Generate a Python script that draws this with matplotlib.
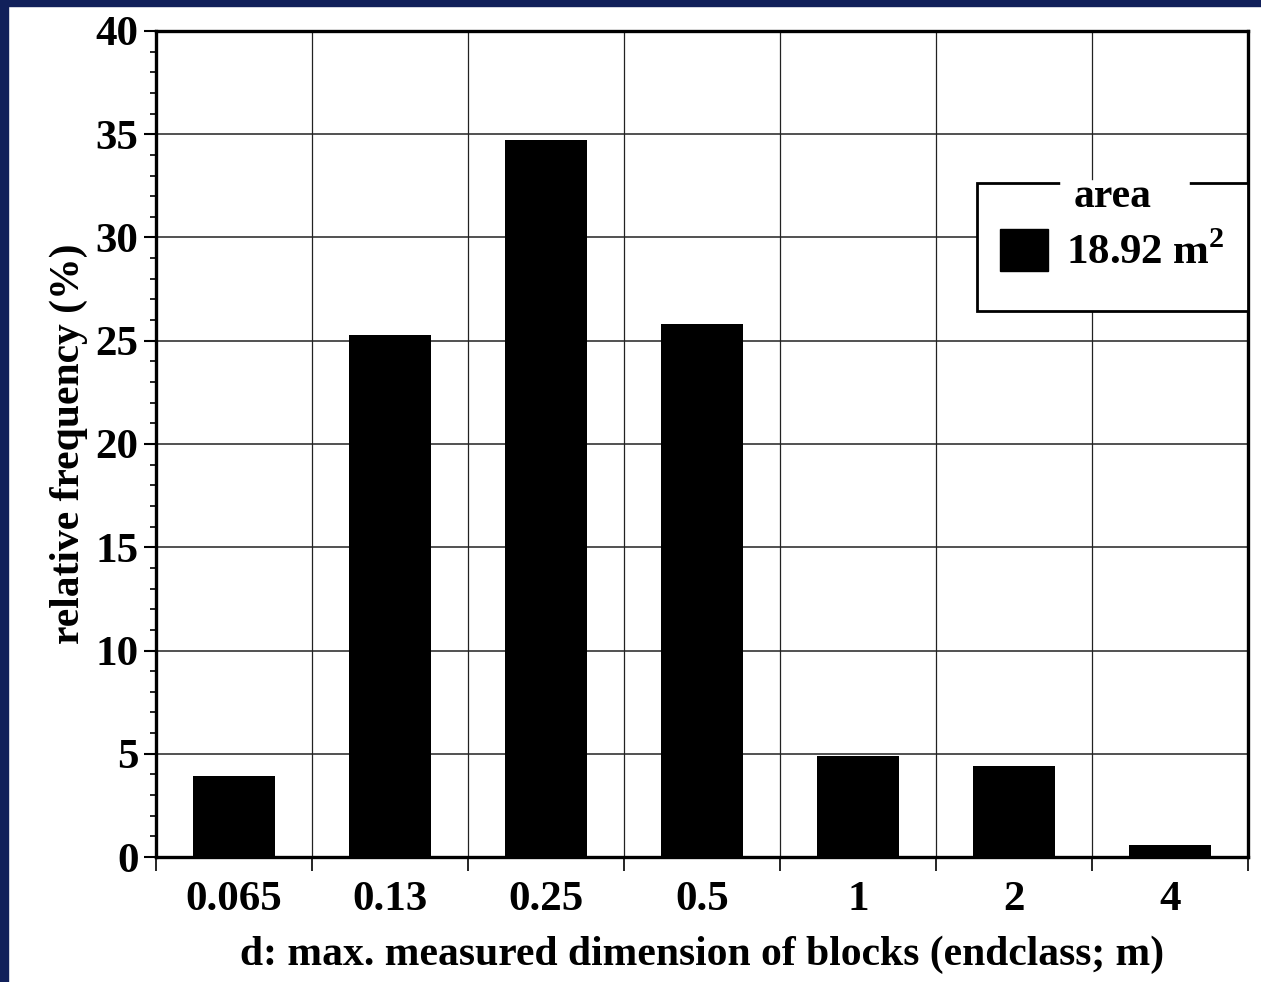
import matplotlib
matplotlib.use("Agg")
import matplotlib.pyplot as plt
from matplotlib.patches import Rectangle, Patch
from matplotlib.lines import Line2D
import numpy as np

categories = ["0.065", "0.13", "0.25", "0.5", "1", "2", "4"]
frequency = [3.9, 25.3, 34.7, 25.8, 4.9, 4.4, 0.6]
legend_title = "area"
legend_label = "18.92 m$^{\\mathbf{2}}$"
yticks = [0, 5, 10, 15, 20, 25, 30, 35, 40]

plt.rcParams['font.family'] = ['Liberation Serif', 'DejaVu Serif']
plt.rcParams['font.weight'] = 'bold'
plt.rcParams['mathtext.fontset'] = 'custom'
plt.rcParams['mathtext.rm'] = 'Liberation Serif:bold'
plt.rcParams['mathtext.bf'] = 'Liberation Serif:bold'

W, H = 1261, 982
fig = plt.figure(figsize=(W/100, H/100), dpi=100)
fig.patch.set_facecolor('white')
navy = '#11205a'
fig.add_artist(Rectangle((0, 0), 8/W, 1, transform=fig.transFigure, color=navy, zorder=10))
fig.add_artist(Rectangle((0, 1 - 6/H), 1, 6/H, transform=fig.transFigure, color=navy, zorder=10))

ax = fig.add_axes([156/W, 1 - 857/H, (1248-156)/W, (857-31)/H])
x = np.arange(len(categories))
ax.bar(x, frequency, width=0.52, color='black', zorder=3)

ax.set_xlim(-0.5, len(categories) - 0.5)
ax.set_ylim(0, 40)
ax.set_yticks(yticks)
ax.set_yticks(np.arange(0, 41, 1), minor=True)
ax.set_xticks(x)
ax.set_xticklabels(categories)
ax.set_xticks(np.arange(-0.5, len(categories), 1), minor=True)

ax.tick_params(axis='x', which='major', length=0, pad=17, labelsize=31)
ax.tick_params(axis='x', which='minor', length=10, width=1.2, direction='out')
ax.tick_params(axis='y', which='major', length=9, width=1.5, direction='out', pad=3.6, labelsize=31)
ax.tick_params(axis='y', which='minor', length=4.5, width=1.2, direction='out')

ax.grid(True, axis='y', which='major', color='#222222', linewidth=1.1, zorder=0)
ax.grid(True, axis='x', which='minor', color='#222222', linewidth=0.9, zorder=0)
ax.set_axisbelow(True)

for s in ax.spines.values():
    s.set_linewidth(2.4)
    s.set_color('black')

ax.set_xlabel("d: max. measured dimension of blocks (endclass; m)", fontsize=30, fontweight='bold', labelpad=12)
ax.set_ylabel("relative frequency (%)", fontsize=30, fontweight='bold', labelpad=5)

handle = Patch(facecolor='black', edgecolor='black')
leg = ax.legend([handle], [legend_label], title=legend_title, loc='upper right',
                bbox_to_anchor=(1.0, (857-154)/826), borderaxespad=0,
                fontsize=31, title_fontsize=30, handlelength=1.1, handleheight=1.13,
                frameon=False, borderpad=0.55, handletextpad=0.42, labelspacing=0.3)
leg.get_title().set_fontweight('bold')
leg.set_zorder(6)

# custom legend frame with the title breaking the top edge
fig.canvas.draw()
inv = ax.transAxes.inverted()
bb = leg.get_window_extent()
tb = leg.get_title().get_window_extent()
top_px = tb.y0 + 0.66 * tb.height + 8
bottom_px = bb.y0 - 14
(x0, y0) = inv.transform((bb.x0, bottom_px))
(x1, y1) = inv.transform((bb.x1, top_px))
ax.add_patch(Rectangle((x0, y0), x1 - x0, y1 - y0, transform=ax.transAxes,
                       facecolor='white', edgecolor='black', linewidth=2.0,
                       zorder=4, clip_on=False))
(gx0, _) = inv.transform((tb.x0 - 10, 0))
(gx1, _) = inv.transform((tb.x1 + 36, 0))
ax.add_line(Line2D([gx0, gx1], [y1, y1], transform=ax.transAxes, color='white',
                   linewidth=4, zorder=5, clip_on=False))

fig.savefig("out.png", dpi=100, facecolor='white')
